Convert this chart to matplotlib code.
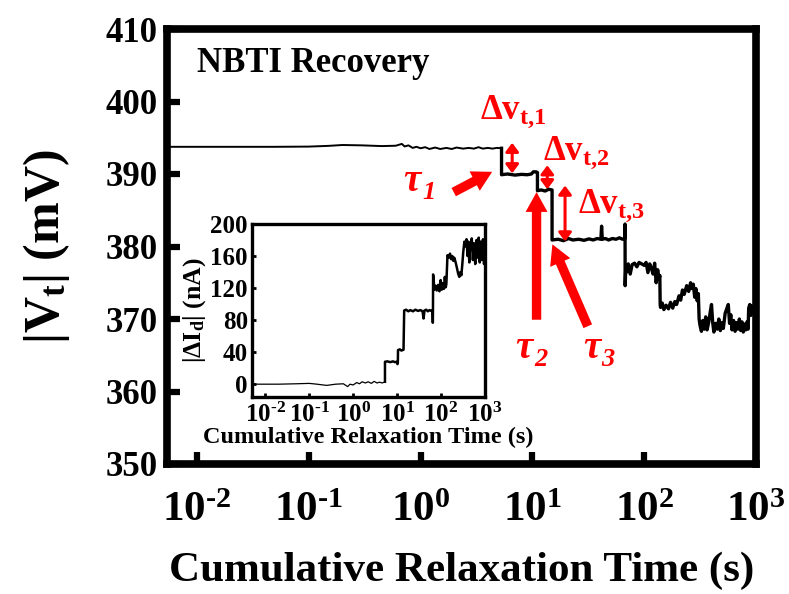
import numpy as np
import matplotlib
matplotlib.use("Agg")
import matplotlib.pyplot as plt
from matplotlib.ticker import FuncFormatter, NullLocator, FixedLocator

plt.rcParams['font.family'] = ['Liberation Serif', 'DejaVu Serif']
plt.rcParams['font.weight'] = 'bold'
plt.rcParams['axes.labelweight'] = 'bold'
plt.rcParams['axes.unicode_minus'] = False
plt.rcParams['mathtext.fontset'] = 'custom'
plt.rcParams['mathtext.rm'] = 'Liberation Serif:bold'
plt.rcParams['mathtext.bf'] = 'Liberation Serif:bold'
plt.rcParams['mathtext.it'] = 'Liberation Serif:italic:bold'

# |Vt| recovery trace (s, mV)
vt_time = [0.0054, 0.02, 0.05, 0.1, 0.15, 0.2, 0.3, 0.45, 0.6, 0.68, 0.72, 0.78, 0.85, 0.92,
           1.0, 1.1, 1.2, 1.35, 1.5, 1.7, 1.9, 2.1, 2.4, 2.7, 3.0, 3.3, 3.6, 4.0, 4.4, 4.8, 5.3,
           5.3, 6.0, 7.0, 8.0, 9.0, 9.8, 10.2, 10.8, 11.1,
           11.1, 12.0, 13.0, 14.0, 15.0,
           15.0, 17, 19, 21, 23, 26, 29, 32, 35, 38, 41, 41.6, 42.2, 45, 48, 52, 56, 60, 64, 67, 67.4,
           67.6, 68.5, 70, 72, 75, 78, 82, 86, 90, 95, 100, 104, 108, 112, 116, 120, 124, 128, 132, 136, 138,
           139, 140, 145, 150, 157, 165, 172, 180, 188, 195, 205, 212, 220, 228, 240, 250, 260, 268, 275,
           283, 290, 298, 305, 310,
           315, 325, 335, 345, 355, 365, 378, 390, 400, 410, 420, 435, 450, 465, 480, 495, 510, 530, 550,
           565, 580, 595, 610, 630, 650, 670, 690, 710, 730, 750, 770, 790, 810, 830, 850, 860, 880, 900,
           920, 950, 980, 1000]
vt_mv = [393.75, 393.75, 393.75, 393.78, 393.88, 394.0, 393.95, 393.85, 393.9, 394.15, 393.8, 393.95, 393.6, 393.75,
         393.55, 393.7, 393.45, 393.65, 393.45, 393.6, 393.45, 393.65, 393.5, 393.6, 393.5, 393.7, 393.5, 393.6, 393.5, 393.6, 393.55,
         389.9, 390.0, 389.85, 389.95, 389.9, 390.0, 390.3, 390.3, 390.2,
         387.7, 387.8, 387.65, 387.9, 387.8,
         380.9, 381.0, 380.8, 381.1, 380.9, 381.0, 380.85, 381.05, 380.9, 381.1, 381.0, 382.8, 381.0, 381.1, 380.9, 381.1, 381.0, 381.2, 381.0, 381.1, 383.1,
         374.6, 377.3, 376.5, 377.6, 376.2, 377.5, 377.7, 377.2, 377.8, 377.6, 377.4, 377.8, 376.4, 377.6, 377.0, 376.2, 377.7, 375.0, 376.8, 375.5, 376.0,
         372.0, 371.6, 372.2, 371.3, 371.9, 371.4, 372.3, 371.5, 372.4, 372.0, 373.2, 372.6, 374.0, 373.4, 374.6, 373.8, 375.0, 374.2, 374.8,
         373.0, 374.2, 372.5, 373.5, 370.0,
         369.2, 368.3, 369.8, 368.6, 370.3, 368.5, 369.6, 371.0, 372.0, 369.5, 368.2, 369.4, 368.6, 370.0, 368.4, 369.5, 368.7, 370.8, 371.5,
         372.0, 369.4, 370.6, 368.5, 369.8, 368.3, 369.5, 368.6, 370.0, 368.4, 369.6, 368.2, 369.3, 368.5, 369.6, 368.6, 371.5, 372.0, 370.5,
         371.8, 370.8, 371.5, 370.8]

# |dId| trace for the inset (s, nA)
id_time = [0.005, 0.02, 0.05, 0.1, 0.15, 0.25, 0.4, 0.6, 0.75, 0.85, 1.0, 1.2, 1.4, 1.6, 1.9, 2.2, 2.6, 3.0, 3.5, 4.0, 4.6, 5.3]
id_na = [0, 0, 0.5, 1.0, 0, -1.5, 0, 0.5, -3, 0, -1, 2, 0.5, 3, 1.5, 3, 1, 3.5, 1.5, 2.5, 1.5, 3]
id_time2 = [5.3, 5.3, 6, 7, 8, 9, 10, 10.2, 10.4, 10.5, 11.5, 12.5, 14, 14.5, 16, 18, 20, 23, 26, 30, 34, 38, 40, 42,
            46, 50, 55, 60, 64, 65, 65.5, 66, 68, 70, 75, 80, 86, 92, 98, 104, 110, 116, 122, 128, 132, 140,
            150, 160, 170, 180, 190, 200, 215, 230, 245, 260, 275, 290, 305, 320, 340, 360, 380, 400, 420,
            440, 460, 480, 500, 530, 560, 600, 640, 680, 720, 760, 800, 850, 900, 950, 1000]
id_na2 = [3, 28, 28.5, 27.5, 28.5, 27.5, 28, 25, 27, 42.5, 43.5, 42, 43, 92, 93, 91, 92.5, 91, 93, 91.5, 92.5, 91, 82, 92,
          93, 91, 92.5, 91.5, 92, 76.7, 92, 137, 130, 118, 123, 117, 124, 116, 130, 118, 126, 119, 134, 121, 125, 161,
          158, 163, 156, 160, 154, 158, 152, 145, 138, 134, 140, 136, 150, 165, 178, 172, 181, 160, 178,
          152, 175, 168, 182, 155, 176, 150, 180, 158, 183, 152, 178, 155, 181, 150, 170]

x_ticks = [1e-2, 1e-1, 1e0, 1e1, 1e2, 1e3]
y_ticks = [350, 360, 370, 380, 390, 400, 410]
inset_y_ticks = [0, 40, 80, 120, 160, 200]


def decade_label(v, pos):
    # short hyphen in the exponent, as in the printed figure
    return r'$\mathdefault{10^{\text{%d}}}$' % round(np.log10(v))


W, H = 789, 594
fig = plt.figure(figsize=(W / 100, H / 100), dpi=100)

ax = fig.add_axes([167 / W, 1 - 464 / H, (756 - 167) / W, (464 - 29) / H])
ax.plot(vt_time[:31], vt_mv[:31], color='black', lw=1.4)
ax.plot(vt_time[30:], vt_mv[30:], color='black', lw=2.4)
ax.set_xscale('log')
ax.set_xlim(5.4e-3, 1e3)
ax.set_ylim(350, 410)
ax.xaxis.set_major_locator(FixedLocator(x_ticks))
ax.xaxis.set_major_formatter(FuncFormatter(decade_label))
ax.xaxis.set_minor_locator(NullLocator())
ax.set_yticks(y_ticks)
for s in ax.spines.values():
    s.set_linewidth(5.5)
ax.tick_params(direction='in', length=9, width=4.5, top=False, right=False)
ax.tick_params(axis='x', labelsize=31, pad=20)
ax.tick_params(axis='y', labelsize=25, pad=7)
ax.set_xlabel('Cumulative Relaxation Time (s)', fontsize=31, labelpad=16)
ax.set_ylabel(r'|V$_{\mathrm{t}}$| (mV)', fontsize=36, labelpad=24)

ax.text(0.051, 0.92, 'NBTI Recovery', transform=ax.transAxes, fontsize=25,
        va='center', ha='left')

red = '#ff0000'
# delta Vt double arrows
dv_arrow = dict(arrowstyle='<|-|>,head_length=0.32,head_width=0.24', color=red, lw=2.2,
                mutation_scale=16, shrinkA=0, shrinkB=0)
ax.annotate('', xy=(6.6, 390.1), xytext=(6.6, 394.3), arrowprops=dv_arrow)
ax.annotate('', xy=(13.6, 387.9), xytext=(13.6, 391.2), arrowprops=dv_arrow)
ax.annotate('', xy=(19.6, 380.7), xytext=(19.6, 388.4), arrowprops=dv_arrow)
ax.text(3.4, 398.6, r'$\Delta$v$_{\mathrm{t{,}1}}$', color=red, fontsize=25, va='center', ha='left')
ax.text(12.4, 393.0, r'$\Delta$v$_{\mathrm{t{,}2}}$', color=red, fontsize=25, va='center', ha='left')
ax.text(25.5, 385.7, r'$\Delta$v$_{\mathrm{t{,}3}}$', color=red, fontsize=25, va='center', ha='left')

# capture-time arrows
tau_arrow = dict(arrowstyle='simple,head_length=0.95,head_width=1.05,tail_width=0.45',
                 color=red, lw=0, mutation_scale=15, shrinkA=0, shrinkB=0)
ax.annotate('', xy=(4.37, 390.3), xytext=(1.98, 387.5), arrowprops=tau_arrow)
ax.annotate('', xy=(10.9, 387.5), xytext=(10.9, 369.9), arrowprops=tau_arrow)
ax.annotate('', xy=(15.1, 380.3), xytext=(31.3, 369.0), arrowprops=tau_arrow)
tau_labels = [('1', 1.0, 389.0), ('2', 10.0, 366.0), ('3', 40.0, 366.0)]
for sub, tx, ty in tau_labels:
    ax.annotate('\u03c4', xy=(tx, ty), xytext=(-6, 0), textcoords='offset points',
                color=red, fontsize=28, style='italic', va='center', ha='center')
    ax.annotate(sub, xy=(tx, ty), xytext=(6, -8), textcoords='offset points',
                color=red, fontsize=19, style='italic', va='center', ha='center')

# inset: drain current change
ins = fig.add_axes([252 / W, 1 - 397 / H, (485 - 252) / W, (397 - 224) / H])
ins.plot(id_time, id_na, color='black', lw=0.9)
ins.plot(id_time2, id_na2, color='black', lw=1.8)
ins.set_xscale('log')
ins.set_xlim(5e-3, 1e3)
ins.set_ylim(-16, 200)
ins.xaxis.set_major_locator(FixedLocator(x_ticks))
ins.xaxis.set_major_formatter(FuncFormatter(decade_label))
ins.xaxis.set_minor_locator(NullLocator())
ins.set_yticks(inset_y_ticks)
for s in ins.spines.values():
    s.set_linewidth(2.4)
ins.tick_params(direction='in', length=3, width=2, top=False, right=False)
ins.tick_params(axis='x', labelsize=18, pad=4)
ins.tick_params(axis='y', labelsize=18, pad=3)
ins.set_xlabel('Cumulative Relaxation Time (s)', fontsize=17.5, labelpad=0)
ins.set_ylabel(r'|$\Delta$I$_{\mathrm{d}}$| (nA)', fontsize=18.5, labelpad=2)

fig.savefig('out.png', dpi=100)
